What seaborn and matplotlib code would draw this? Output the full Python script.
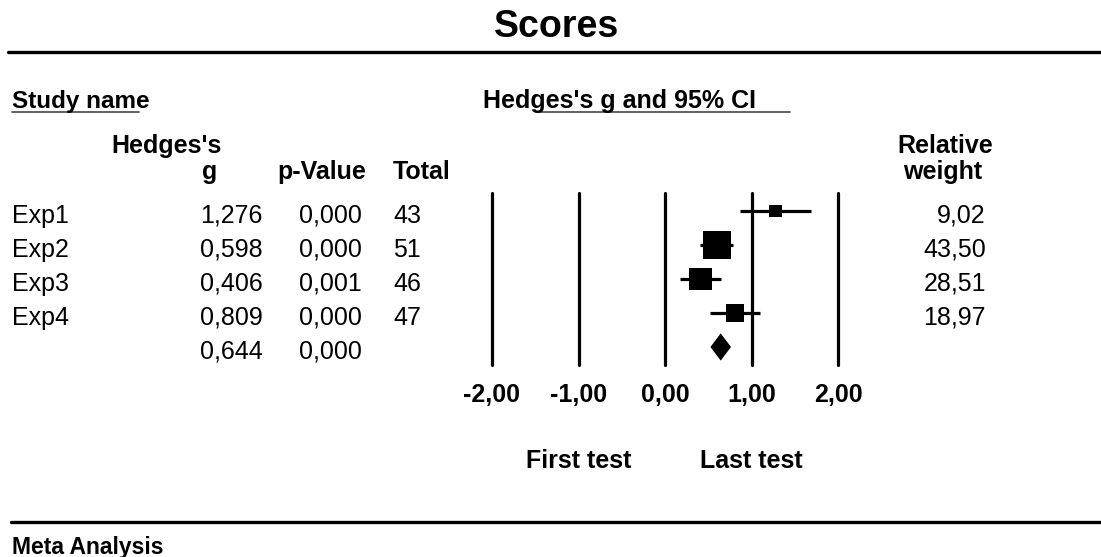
import matplotlib
matplotlib.use("Agg")
import matplotlib.pyplot as plt
import matplotlib.transforms as mtransforms
import seaborn as sns
import pandas as pd

studies = ["Exp1", "Exp2", "Exp3", "Exp4"]
hedges_g = [1.276, 0.598, 0.406, 0.809]
ci_lower = [0.866, 0.410, 0.169, 0.519]
ci_upper = [1.686, 0.786, 0.643, 1.099]
p_values = ["0,000", "0,000", "0,001", "0,000"]
totals = [43, 51, 46, 47]
rel_weight = [9.02, 43.50, 28.51, 18.97]

summary_g = 0.644
summary_lower = 0.525
summary_upper = 0.763
summary_p = "0,000"

ticks = [-2, -1, 0, 1, 2]
tick_labels = ["-2,00", "-1,00", "0,00", "1,00", "2,00"]

sns.set_style("white")
plt.rcParams["font.family"] = ["Liberation Sans", "DejaVu Sans"]
plt.rcParams["text.color"] = "black"
plt.rcParams["xtick.color"] = "black"

W, H = 1101, 557
fig = plt.figure(figsize=(W / 100, H / 100), dpi=100)


def fx(px):
    return px / W


def fy(py):
    return 1 - py / H


# forest plot axes: -2..2 spans x 492..838 px, rows centred at 211 + 34*i px
ax = fig.add_axes([fx(492), fy(365), fx(838) - fx(492), fy(193) - fy(365)])
ax.set_xlim(-2, 2)
ax.set_ylim(4.53, -0.53)

for t in ticks:
    ax.axvline(t, color="black", lw=2.3, clip_on=False, zorder=1)

rows = list(range(len(studies)))
df = pd.DataFrame({"g": hedges_g, "row": rows, "weight": rel_weight})
ax.hlines(rows, ci_lower, ci_upper, color="black", lw=2.3, zorder=2)
k = 9.6
sns.scatterplot(data=df, x="g", y="row", size="weight",
                sizes=(min(rel_weight) * k, max(rel_weight) * k),
                marker="s", color="black", linewidth=0, legend=False,
                ax=ax, zorder=3)

srow = len(studies)
ax.fill([summary_lower, summary_g, summary_upper, summary_g],
        [srow, srow - 0.4, srow, srow + 0.4], color="black", lw=0, zorder=3)

ax.set_xticks(ticks, tick_labels)
ax.set_yticks([])
ax.set_xlabel("")
ax.set_ylabel("")
ax.tick_params(axis="x", length=0, pad=13, labelsize=18, labelcolor="black")
for lab in ax.get_xticklabels():
    lab.set_fontweight("bold")
sns.despine(ax=ax, left=True, bottom=True)

# table text: x in figure px, y in data rows
tr = mtransforms.blended_transform_factory(fig.transFigure, ax.transData)
off = 0.35
for i in rows:
    ax.text(fx(12), i + off, studies[i], transform=tr, fontsize=18, va="baseline", ha="left")
    ax.text(fx(263), i + off, f"{hedges_g[i]:.3f}".replace(".", ","), transform=tr,
            fontsize=18, va="baseline", ha="right")
    ax.text(fx(362), i + off, p_values[i], transform=tr, fontsize=18, va="baseline", ha="right")
    ax.text(fx(393), i + off, str(totals[i]), transform=tr, fontsize=18, va="baseline", ha="left")
    ax.text(fx(986), i + off, f"{rel_weight[i]:.2f}".replace(".", ","), transform=tr,
            fontsize=18, va="baseline", ha="right")
ax.text(fx(263), srow + off, f"{summary_g:.3f}".replace(".", ","), transform=tr,
        fontsize=18, va="baseline", ha="right")
ax.text(fx(362), srow + off, summary_p, transform=tr, fontsize=18, va="baseline", ha="right")

# title and header block
fig.text(fx(557), fy(37), "Scores", fontsize=27, fontweight="bold", ha="center", va="baseline")
fig.add_artist(plt.Line2D([fx(8), 1], [fy(52), fy(52)], color="black", lw=2.4))

fig.text(fx(12), fy(108), "Study name", fontsize=17.5, fontweight="bold", va="baseline")
fig.add_artist(plt.Line2D([fx(12), fx(139)], [fy(112), fy(112)], color="#555555", lw=1.3))
fig.text(fx(483), fy(108), "Hedges's g and 95% CI", fontsize=18, fontweight="bold", va="baseline")
fig.add_artist(plt.Line2D([fx(540), fx(790)], [fy(112), fy(112)], color="#555555", lw=1.3))

fig.text(fx(222), fy(153), "Hedges's", fontsize=18, fontweight="bold", ha="right", va="baseline")
fig.text(fx(217), fy(179), "g", fontsize=18, fontweight="bold", ha="right", va="baseline")
fig.text(fx(277), fy(179), "p-Value", fontsize=18, fontweight="bold", ha="left", va="baseline")
fig.text(fx(393), fy(179), "Total", fontsize=18, fontweight="bold", ha="left", va="baseline")
fig.text(fx(945), fy(153), "Relative", fontsize=18, fontweight="bold", ha="center", va="baseline")
fig.text(fx(943), fy(179), "weight", fontsize=18, fontweight="bold", ha="center", va="baseline")

# direction labels under the axis
trx = mtransforms.blended_transform_factory(ax.transData, fig.transFigure)
ax.text(-1, fy(468), "First test", transform=trx, fontsize=18, fontweight="bold",
        ha="center", va="baseline")
ax.text(1, fy(468), "Last test", transform=trx, fontsize=18, fontweight="bold",
        ha="center", va="baseline")

# footer
fig.add_artist(plt.Line2D([fx(11), 1], [fy(522), fy(522)], color="black", lw=2.4))
fig.text(fx(12), fy(554), "Meta Analysis", fontsize=16.5, fontweight="bold", va="baseline")

fig.savefig("out.png", dpi=100, facecolor="white")
